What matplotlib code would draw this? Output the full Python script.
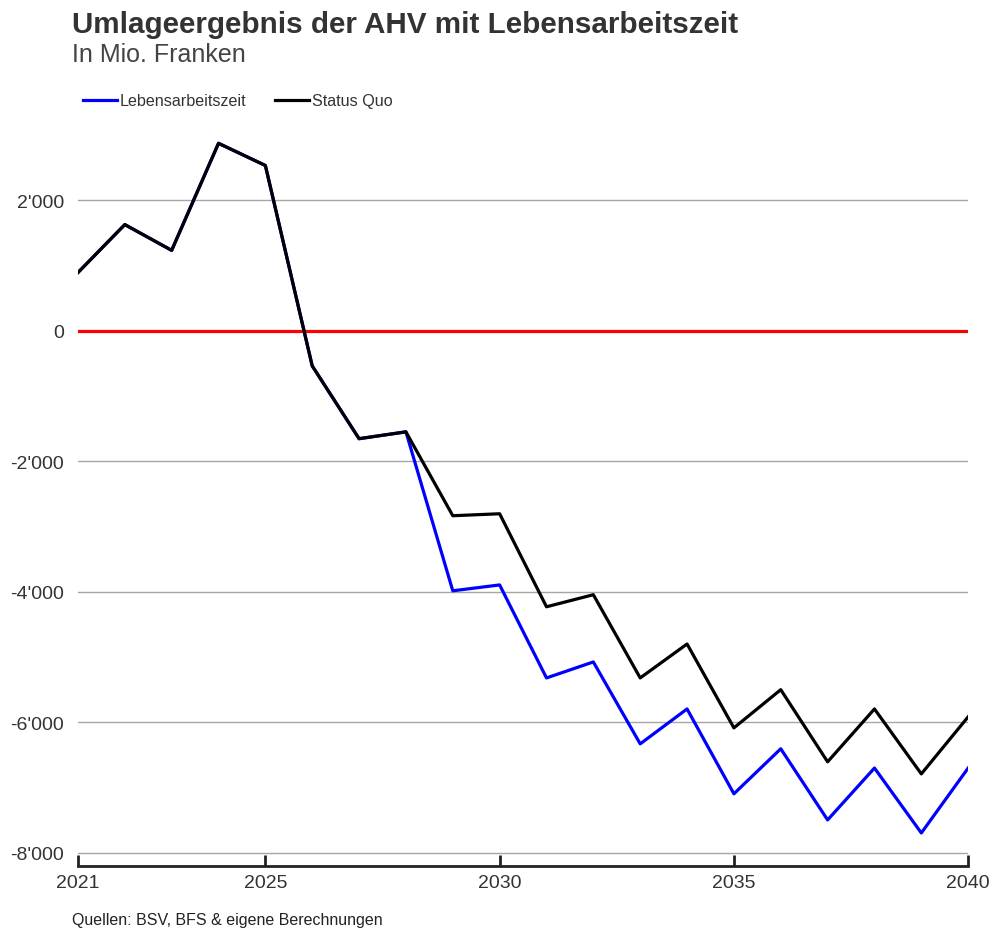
import matplotlib.pyplot as plt
from matplotlib.ticker import FuncFormatter

plt.rcParams['font.family'] = ['Liberation Sans', 'DejaVu Sans']

years = list(range(2021, 2041))

status_quo = [890, 1625, 1230, 2870, 2530, -540, -1655, -1550, -2835, -2805,
              -4230, -4045, -5320, -4800, -6085, -5500, -6605, -5795, -6790, -5915]

lebensarbeitszeit = [890, 1625, 1230, 2870, 2530, -540, -1655, -1550, -3985, -3895,
                     -5320, -5075, -6330, -5795, -7095, -6405, -7495, -6700, -7695, -6700]

yticks = [-8000, -6000, -4000, -2000, 0, 2000]
xticks = [2021, 2025, 2030, 2035, 2040]

fig = plt.figure(figsize=(9.93, 9.29), dpi=100)
ax = fig.add_axes([0.0785, 0.0668, 0.8965, 0.787])

for y in yticks:
    if y != 0:
        ax.axhline(y, color='#a6a6a6', lw=1.0, zorder=1)
ax.axhline(0, color='#ff0000', lw=2.3, zorder=2)

ax.plot(years, lebensarbeitszeit, color='#0000ff', lw=2.3, label='Lebensarbeitszeit', zorder=3)
ax.plot(years, status_quo, color='#000000', lw=2.3, label='Status Quo', zorder=4)

ax.set_xlim(2021, 2040)
ax.set_ylim(-8200, 3000)
ax.set_xticks(xticks)
ax.set_yticks(yticks)
ax.yaxis.set_major_formatter(FuncFormatter(lambda v, p: f"{int(v):,}".replace(',', "'")))

for s in ['top', 'right', 'left']:
    ax.spines[s].set_visible(False)
ax.spines['bottom'].set_color('#222222')
ax.spines['bottom'].set_linewidth(2)
ax.tick_params(axis='x', direction='in', length=8, width=2, color='#222222',
               labelsize=14, labelcolor='#333333', pad=6)
ax.tick_params(axis='y', length=0, labelsize=14, labelcolor='#333333', pad=10)

fig.text(0.0725, 0.9735, 'Umlageergebnis der AHV mit Lebensarbeitszeit', fontsize=21.3,
         fontweight='bold', color='#333333', ha='left', va='center')
fig.text(0.0725, 0.9405, 'In Mio. Franken', fontsize=18, color='#444444', ha='left', va='center')
fig.text(0.0725, 0.0095, 'Quellen: BSV, BFS & eigene Berechnungen', fontsize=11.5,
         color='#222222', ha='left', va='center')

fig.legend(loc='center left', bbox_to_anchor=(0.0835, 0.8905), ncol=2, frameon=False,
           fontsize=11.6, handlelength=2.1, handletextpad=0.2, columnspacing=1.75,
           labelcolor='#333333', borderaxespad=0, borderpad=0)

fig.savefig('out.png', dpi=100)
